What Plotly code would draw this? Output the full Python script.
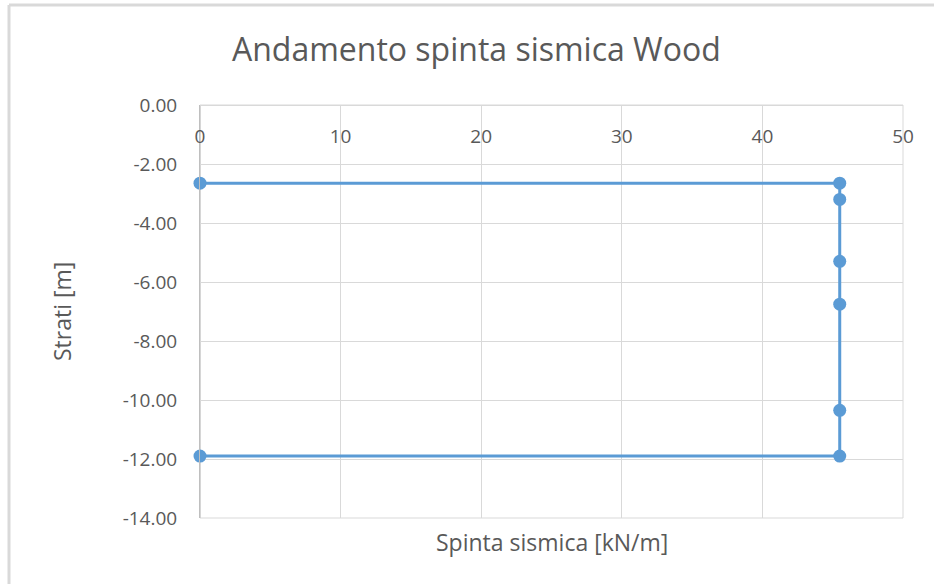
import plotly.graph_objects as go

spinta = [0, 45.5, 45.5, 45.5, 45.5, 45.5, 45.5, 0]
strati = [-2.65, -2.65, -3.2, -5.3, -6.75, -10.35, -11.9, -11.9]
x_ticks = [0, 10, 20, 30, 40, 50]
x_tick_labels = ["0", "10", "20", "30", "40", "50"]
y_ticks = [0, -2, -4, -6, -8, -10, -12, -14]
y_tick_labels = ["0.00", "-2.00", "-4.00", "-6.00", "-8.00", "-10.00", "-12.00", "-14.00"]

W, H = 934, 584
L, R, T, B = 200, 31, 105, 66
pw, ph = W - L - R, H - T - B

def px_x(p):
    return (p - L) / pw

def px_y(p):
    return (H - B - p) / ph

fig = go.Figure()
fig.add_trace(go.Scatter(
    x=spinta, y=strati, mode="lines+markers",
    line=dict(color="#5B9BD5", width=3),
    marker=dict(color="#5B9BD5", size=13),
    showlegend=False, cliponaxis=False,
))

font = "Open Sans"
txt = "#595959"
fig.update_layout(
    width=W, height=H,
    margin=dict(l=L, r=R, t=T, b=B),
    paper_bgcolor="white", plot_bgcolor="white",
    font=dict(family=font, color=txt),
    title=dict(text="Andamento spinta sismica Wood", x=0.51, xanchor="center",
               y=1 - 50 / H, yanchor="middle",
               font=dict(size=32, color=txt, family=font)),
    xaxis=dict(
        range=[0, 50], tickvals=x_ticks, ticktext=x_tick_labels,
        side="bottom", anchor="free", position=1,
        ticks="", ticklabelstandoff=14,
        showgrid=True, gridcolor="#d9d9d9", gridwidth=1,
        showline=True, linecolor="#d9d9d9", zeroline=False,
        tickfont=dict(size=19, color=txt),
        title=None,
    ),
    yaxis=dict(
        range=[-14, 0], tickvals=y_ticks, ticktext=y_tick_labels,
        showgrid=True, gridcolor="#d9d9d9", gridwidth=1,
        showline=True, linecolor="#bfbfbf", zeroline=False,
        ticks="", ticklabelstandoff=18,
        tickfont=dict(size=19, color=txt),
        title=None,
    ),
    annotations=[
        dict(text="Spinta sismica [kN/m]", xref="paper", yref="paper",
             x=0.5, y=px_y(542), xanchor="center", yanchor="middle",
             showarrow=False, font=dict(size=23, color=txt)),
        dict(text="Strati [m]", xref="paper", yref="paper", textangle=-90,
             x=px_x(62), y=px_y(312), xanchor="center", yanchor="middle",
             showarrow=False, font=dict(size=23, color=txt)),
    ],
    shapes=[
        dict(type="rect", xref="paper", yref="paper", x0=0, x1=1, y0=0, y1=1,
             line=dict(color="#d9d9d9", width=1), layer="below"),
        dict(type="line", xref="paper", yref="paper",
             x0=0, x1=0, y0=0, y1=1,
             line=dict(color="#bfbfbf", width=1), layer="below"),
        dict(type="line", xref="paper", yref="paper",
             x0=px_x(9), x1=px_x(934), y0=px_y(5), y1=px_y(5),
             line=dict(color="#d9d9d9", width=3)),
        dict(type="line", xref="paper", yref="paper",
             x0=px_x(9), x1=px_x(9), y0=px_y(5), y1=px_y(584),
             line=dict(color="#d9d9d9", width=3)),
    ],
)

fig.write_html("out.html", config={"displayModeBar": False},
               post_script="document.body.style.margin='0';")
